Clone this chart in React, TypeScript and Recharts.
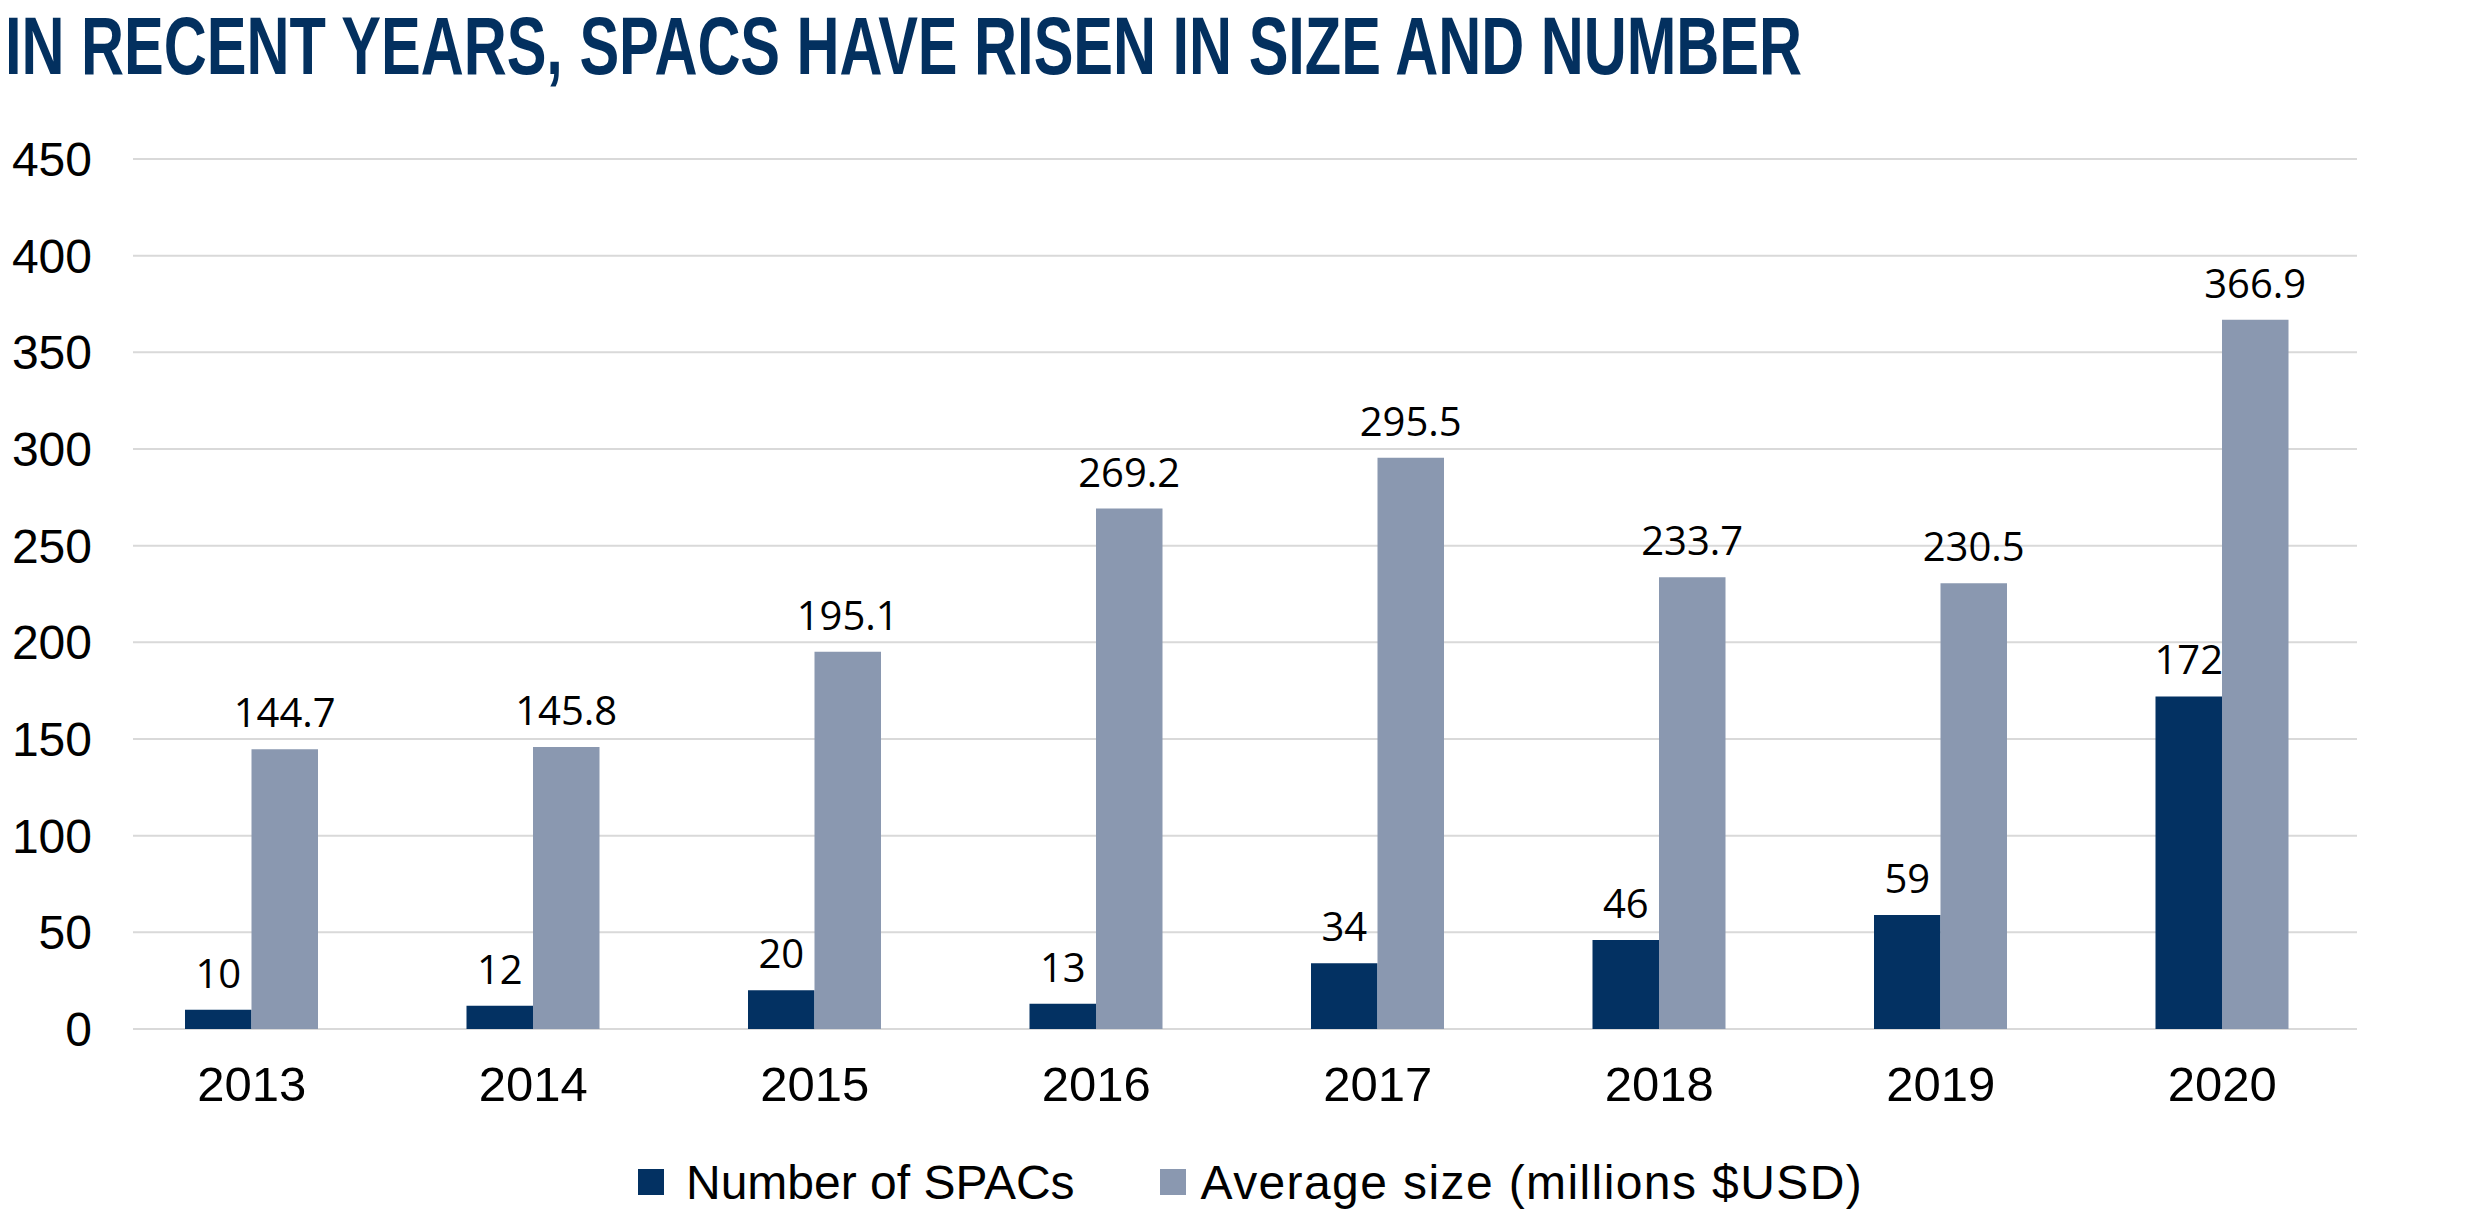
import { BarChart, Bar, XAxis, YAxis, CartesianGrid, Legend, LabelList } from "recharts";

const years = ["2013", "2014", "2015", "2016", "2017", "2018", "2019", "2020"];
const spacCount = [10, 12, 20, 13, 34, 46, 59, 172];
const avgSize = [144.7, 145.8, 195.1, 269.2, 295.5, 233.7, 230.5, 366.9];
const yTicks = [0, 50, 100, 150, 200, 250, 300, 350, 400, 450];

const NAVY = "#033162";
const GREY = "#8a98b0";

const data = years.map((year, i) => ({ year, count: spacCount[i], size: avgSize[i] }));

const renderLegend = () => (
  <div
    style={{
      width: 2492,
      height: 60,
      display: "flex",
      alignItems: "center",
      paddingTop: 6,
      paddingLeft: 638,
      boxSizing: "border-box",
      fontFamily: "'Liberation Sans', Arial, sans-serif",
      fontSize: 48,
      color: "#000",
    }}
  >
    <span style={{ width: 26, height: 26, background: NAVY, marginRight: 22 }} />
    <span style={{ marginRight: 85 }}>Number of SPACs</span>
    <span style={{ width: 26, height: 26, background: GREY, marginRight: 15 }} />
    <span style={{ letterSpacing: 1.4 }}>Average size (millions $USD)</span>
  </div>
);

export default function App() {
  return (
    <div style={{ position: "absolute", left: 0, top: 0, width: 2492, height: 1209, background: "#fff" }}>
      <svg width={2492} height={100} style={{ position: "absolute", left: 0, top: 0 }}>
        <text
          x={5}
          y={74}
          textLength={1797}
          lengthAdjust="spacingAndGlyphs"
          fontFamily="'Liberation Sans', Arial, sans-serif"
          fontWeight={700}
          fontSize={81}
          fill="#03305f"
        >
          IN RECENT YEARS, SPACS HAVE RISEN IN SIZE AND NUMBER
        </text>
      </svg>
      <BarChart
        width={2492}
        height={1209}
        data={data}
        margin={{ top: 159, right: 135, bottom: 0, left: 0 }}
        barGap={0}
        barSize={66.5}
      >
        <CartesianGrid vertical={false} stroke="#d9d9d9" strokeWidth={2} />
        <XAxis
          dataKey="year"
          axisLine={false}
          tickLine={false}
          tickSize={0}
          tickMargin={37}
          height={120}
          interval={0}
          padding={{ left: -22, right: -6 }}
          tick={{ fontSize: 49, fill: "#000", fontFamily: "'Liberation Sans', Arial, sans-serif" }}
        />
        <YAxis
          domain={[0, 450]}
          ticks={yTicks}
          width={133}
          axisLine={false}
          tickLine={false}
          tickSize={0}
          tickMargin={41}
          tick={{ fontSize: 48, fill: "#000", fontFamily: "'Liberation Sans', Arial, sans-serif" }}
        />
        <Legend
          verticalAlign="bottom"
          height={60}
          content={renderLegend}
          wrapperStyle={{ left: 0, width: 2492, bottom: 0 }}
        />
        <Bar dataKey="count" name="Number of SPACs" fill={NAVY} isAnimationActive={false}>
          <LabelList
            dataKey="count"
            position="top"
            offset={22}
            style={{ fontSize: 40, fill: "#000", fontFamily: "'Open Sans', sans-serif" }}
          />
        </Bar>
        <Bar dataKey="size" name="Average size (millions $USD)" fill={GREY} isAnimationActive={false}>
          <LabelList
            dataKey="size"
            position="top"
            offset={22}
            style={{ fontSize: 40, fill: "#000", fontFamily: "'Open Sans', sans-serif" }}
          />
        </Bar>
      </BarChart>
    </div>
  );
}
